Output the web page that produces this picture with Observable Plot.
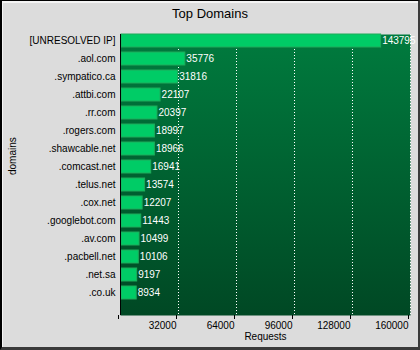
<!DOCTYPE html>
<html>
<head>
<meta charset="utf-8">
<script src="https://cdn.jsdelivr.net/npm/d3@7"></script>
<script src="https://cdn.jsdelivr.net/npm/@observablehq/plot@0.6"></script>
<style>
  html, body { margin: 0; padding: 0; background: #dcdcdc; }
  #wrap { position: relative; width: 420px; height: 350px; background: #dcdcdc; overflow: hidden; font-family: "Liberation Sans", Arial, sans-serif; }
  #title { position: absolute; top: 6px; left: 0; width: 420px; text-align: center; font-size: 13px; color: #000; }
  #chart { position: absolute; top: 0; left: 0; }
  #border { position: absolute; inset: 0; box-sizing: border-box; border-left: 2px solid #000; border-top: 1px solid #000; border-right: 2px solid #3a3a3a; border-bottom: 3px solid #3a3a3a; pointer-events: none; }
  #border::after { content: ""; position: absolute; left: 0; top: 0; right: 0; bottom: 0; border-left: 1px solid #f4f4f4; border-top: 2px solid #f4f4f4; }
</style>
</head>
<body>
<div id="wrap">
  <div id="chart"></div>
  <div id="title">Top Domains</div>
  <div id="border"></div>
</div>
<script>
const domains = ["[UNRESOLVED IP]", ".aol.com", ".sympatico.ca", ".attbi.com", ".rr.com", ".rogers.com", ".shawcable.net", ".comcast.net", ".telus.net", ".cox.net", ".googlebot.com", ".av.com", ".pacbell.net", ".net.sa", ".co.uk"];
const requests = [143795, 35776, 31816, 22107, 20397, 18997, 18966, 16941, 13574, 12207, 11443, 10499, 10106, 9197, 8934];
const xTicks = [0, 32000, 64000, 96000, 128000, 160000];
const gridTicks = [32000, 64000, 96000, 128000, 160000];
const xLabel = "Requests";
const yLabel = "domains";

const data = domains.map((d, i) => ({domain: d, value: requests[i]}));

const chart = Plot.plot({
  width: 420,
  height: 350,
  marginTop: 34,
  marginBottom: 35,
  marginLeft: 120,
  marginRight: 10,
  style: {background: "transparent", fontFamily: "'Liberation Sans', Arial, sans-serif", fontSize: "10px", color: "#000", overflow: "visible"},
  x: {domain: [0, 160000]},
  y: {domain: domains, paddingInner: 0.3, paddingOuter: 0.15, align: 0},
  marks: [
    Plot.frame({fill: "url(#bggrad)", stroke: "none"}),
    Plot.ruleX(gridTicks, {stroke: "white", strokeDasharray: "1,2", strokeWidth: 1}),
    Plot.barX(data, {x: "value", y: "domain", fill: "#00cc66", stroke: "#1faa5a", strokeWidth: 1, insetLeft: 1}),
    Plot.text(data, {x: "value", y: "domain", text: d => String(d.value), textAnchor: "start", dx: 1, fill: "white", fontSize: 10}),
    Plot.ruleX([0], {stroke: "black", strokeWidth: 1}),
    Plot.axisX({ticks: xTicks, tickFormat: d => d === 0 ? "" : d3.format("d")(d), tickSize: 4, tickPadding: 2, textAnchor: "end", dx: -2, label: null, stroke: "black"}),
    Plot.axisY({tickSize: 0, tickPadding: 5, label: null}),
    Plot.text([xLabel], {text: d => d, frameAnchor: "bottom", dy: 24, fontSize: 10}),
    Plot.text([yLabel], {text: d => d, frameAnchor: "left", dx: -108, rotate: -90, fontSize: 10})
  ]
});

const ns = "http://www.w3.org/2000/svg";
const defs = document.createElementNS(ns, "defs");
defs.innerHTML = '<linearGradient id="bggrad" x1="0" y1="0" x2="0" y2="1"><stop offset="0" stop-color="#007b3e"/><stop offset="1" stop-color="#004824"/></linearGradient>';
chart.insertBefore(defs, chart.firstChild);
document.getElementById("chart").appendChild(chart);
</script>
</body>
</html>
